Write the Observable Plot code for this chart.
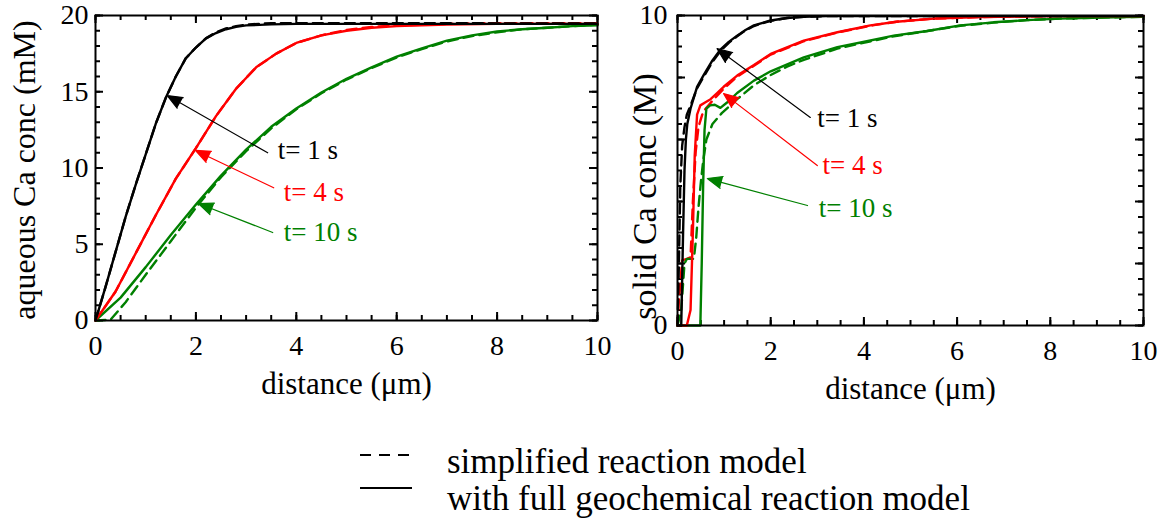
<!DOCTYPE html>
<html><head><meta charset="utf-8">
<script src="https://cdn.jsdelivr.net/npm/d3@7"></script>
<script src="https://cdn.jsdelivr.net/npm/@observablehq/plot@0.6"></script>
<style>
html,body{margin:0;padding:0;background:#fff;}
#wrap{position:relative;width:1168px;height:518px;overflow:hidden;background:#fff;font-family:"Liberation Serif","Times New Roman",serif;}
#wrap > *{position:absolute;}
</style></head><body><div id="wrap"></div>
<script>
// ---------- data: aqueous Ca conc (mM) ----------
const aqBlackX = [0,0.2,0.4,0.6,0.8,1.0,1.2,1.4,1.6,1.8,2.0,2.2,2.4,2.6,2.8,3.0,3.5,4,5,6,7,8,9,10];
const aqBlackSolid = [0,2.2,4.5,6.8,8.9,10.9,12.9,14.6,16.0,17.2,17.9,18.5,18.85,19.1,19.25,19.35,19.42,19.45,19.45,19.45,19.45,19.45,19.45,19.45];
const aqBlackDashed = [0,2.2,4.5,6.8,8.9,10.9,12.9,14.6,16.0,17.2,17.9,18.5,18.9,19.15,19.3,19.4,19.5,19.5,19.5,19.5,19.5,19.5,19.5,19.5];

const aqRedX = [0,0.4,0.8,1.2,1.6,2.0,2.4,2.8,3.2,3.6,4.0,4.5,5.0,5.5,6.0,7.0,8.0,10];
const aqRedSolid = [0,1.9,4.4,6.9,9.3,11.3,13.4,15.2,16.6,17.5,18.2,18.7,19.0,19.2,19.3,19.4,19.45,19.45];
const aqRedDashed = [0,1.9,4.4,6.9,9.3,11.3,13.4,15.2,16.6,17.5,18.2,18.7,19.05,19.25,19.35,19.45,19.5,19.5];

const aqGreenX = [0,0.5,1.0,1.5,2.0,2.5,3.0,3.5,4.0,4.5,5.0,5.5,6.0,6.5,7.0,7.5,8.0,8.5,9.0,9.5,10];
const aqGreenSolid = [0,1.5,3.5,5.6,7.6,9.5,11.2,12.7,13.9,14.95,15.85,16.6,17.3,17.85,18.35,18.7,18.95,19.1,19.2,19.3,19.35];
const aqGreenDashedX = [0,0.3,0.6,1.0,1.5,2.0,2.5,3.0,3.5,4.0,4.5,5.0,5.5,6.0,6.5,7.0,7.5,8.0,8.5,9.0,9.5,10];
const aqGreenDashed = [0,0.05,1.2,3.0,5.2,7.4,9.4,11.1,12.6,13.85,14.9,15.8,16.55,17.25,17.8,18.3,18.65,18.9,19.1,19.2,19.3,19.4];

// ---------- data: solid Ca conc (M) ----------
const soBlackX = [0,0.08,0.1,0.12,0.15,0.18,0.21,0.28,0.42,0.57,0.75,0.92,1.1,1.28,1.46,1.64,2.0,2.35,2.71,3.2,4,5,10];
const soBlackSolid = [0,0,1.5,3.0,5.0,6.0,6.5,7.0,7.7,8.1,8.55,8.9,9.15,9.35,9.53,9.68,9.84,9.92,9.96,9.98,9.98,9.98,9.98];
const soBlackDashedX = [0,0.03,0.06,0.1,0.15,0.2,0.28,0.42,0.57,0.75,0.92,1.1,1.28,1.46,1.64,2.0,2.35,2.71,3.2,4,5,10];
const soBlackDashed = [0,2.0,4.5,5.8,6.4,6.8,7.1,7.65,8.05,8.5,8.85,9.12,9.33,9.52,9.66,9.83,9.92,9.96,9.98,9.98,9.98,9.98];

const soRedX = [0,0.2,0.28,0.33,0.37,0.42,0.49,0.6,0.71,0.85,0.99,1.28,1.64,2.0,2.71,3.43,4.14,4.7,5.5,6.5,8,10];
const soRedSolid = [0,0,0.5,3.0,5.5,6.8,7.1,7.2,7.3,7.5,7.7,8.06,8.4,8.76,9.19,9.46,9.68,9.8,9.9,9.95,9.98,9.98];
const soRedDashedX = [0,0.03,0.1,0.2,0.28,0.33,0.39,0.45,0.55,0.75,1.0,1.28,1.64,2.0,2.71,3.43,4.14,4.7,5.5,6.5,8,10];
const soRedDashed = [0,0.8,2.1,2.15,2.2,4.0,5.6,6.4,6.9,7.25,7.65,8.03,8.38,8.74,9.17,9.45,9.67,9.8,9.9,9.95,9.98,9.98];

const soGreenX = [0,0.49,0.52,0.55,0.58,0.62,0.7,0.8,0.92,1.07,1.28,1.64,2.0,2.71,3.43,3.93,4.64,5.36,6.07,6.78,7.5,8.2,9.6,10];
const soGreenSolid = [0,0,2.0,4.5,6.3,7.0,7.1,7.12,7.02,7.2,7.5,7.9,8.2,8.65,8.98,9.13,9.35,9.5,9.68,9.78,9.85,9.9,9.95,9.96];
const soGreenDashedX = [0,0.08,0.15,0.2,0.35,0.4,0.45,0.5,0.55,0.62,0.75,0.95,1.28,1.64,2.0,2.35,2.71,3.43,3.93,4.64,5.36,6.07,6.78,7.5,8.2,9.6,10];
const soGreenDashed = [0,0.5,2.0,2.15,2.15,2.8,3.8,4.6,5.3,6.0,6.5,6.85,7.3,7.75,8.08,8.35,8.57,8.93,9.1,9.33,9.5,9.67,9.77,9.85,9.9,9.95,9.96];

// ---------- ticks & labels ----------
const xTickLabels = [0,2,4,6,8,10];
const aqTickLabels = [0,5,10,15,20];
const soTickLabels = [0,10];
const seriesColors = ["black","red","green"];
const timeLabels = ["t= 1 s","t= 4 s","t= 10 s"];

// annotations (data units): label position, arrow tail, arrow tip
const aqLabelX = [3.63,3.75,3.75], aqLabelY = [11.15,8.4,5.77];
const aqTailX = [3.43,3.55,3.53], aqTailY = [11.0,8.7,5.77];
const aqTipX = [1.43,1.99,2.05], aqTipY = [14.75,11.15,7.67];
const soLabelX = [3.0,3.11,3.03], soLabelY = [6.68,5.16,3.77];
const soTailX = [2.85,3.0,2.79], soTailY = [6.71,5.16,3.87];
const soTipX = [0.85,0.99,0.64], soTipY = [8.93,7.48,4.74];

const legendLabels = ["simplified reaction model","with full geochemical reaction model"];

// ---------- build ----------
const FONT = '"Liberation Serif","Times New Roman",serif';
const rows = (xs, ys) => xs.map((x,i)=>({x, y: ys[i]}));
const annRows = (lx,ly,tx,ty,px,py) => timeLabels.map((label,i)=>({label, lx:lx[i], ly:ly[i], x1:tx[i], y1:ty[i], x2:px[i], y2:py[i], color:seriesColors[i]}));

function panel(o){
  const height = 400, marginTop = 15;
  const innerW = o.width - o.marginLeft - o.marginRight;
  const innerH = height - marginTop - o.marginBottom;
  const xMinor = d3.range(0, 10.001, 0.5), xMajor = d3.range(0, 10.001, 2);
  const marks = [];
  const tx = (vals,len) => [
    Plot.tickX(vals,{x:d=>d, insetTop: innerH-len, stroke:"black", strokeWidth:2}),
    Plot.tickX(vals,{x:d=>d, insetBottom: innerH-len, stroke:"black", strokeWidth:2})];
  const ty = (vals,len) => [
    Plot.tickY(vals,{y:d=>d, insetRight: innerW-len, stroke:"black", strokeWidth:2}),
    Plot.tickY(vals,{y:d=>d, insetLeft: innerW-len, stroke:"black", strokeWidth:2})];
  marks.push(...tx(xMinor,5), ...tx(xMajor,8), ...ty(o.yMinor,5), ...ty(o.yMajor,8));
  for (const s of o.series) {
    marks.push(Plot.line(rows(s.x, s.y), {x:"x", y:"y", stroke:s.color, strokeWidth:2.4,
      strokeDasharray: s.dashed ? "10,6" : null, strokeLinejoin:"round"}));
  }
  marks.push(Plot.frame({stroke:"black", strokeWidth:2}));
  marks.push(Plot.axisX({ticks: xTickLabels, tickSize:0, tickPadding:15, fontSize:28, label:null}));
  marks.push(Plot.axisY({ticks: o.yLabels, tickSize:0, tickPadding:o.yPad, fontSize:28, label:null}));
  marks.push(Plot.text(["distance (μm)"], {text:d=>d, frameAnchor:"bottom", dy:o.xTitleDy, lineAnchor:"bottom", textAnchor:"middle", fontSize:31}));
  marks.push(Plot.text([o.yTitle], {text:d=>d, frameAnchor:"left", rotate:-90, dx:o.yTitleDx, dy:o.yTitleDy, lineAnchor:"bottom", textAnchor:"middle", fontSize:o.yTitleSize}));
  marks.push(Plot.arrow(o.ann, {x1:"x1", y1:"y1", x2:"x2", y2:"y2", stroke:"color", fill:"color", strokeWidth:1.2, headLength:20, headAngle:45}));
  marks.push(Plot.text(o.ann, {x:"lx", y:"ly", text:"label", fill:"color", textAnchor:"start", fontSize:27}));
  const svg = Plot.plot({
    width:o.width, height, marginTop, marginLeft:o.marginLeft, marginRight:o.marginRight, marginBottom:o.marginBottom,
    x:{domain:[0,10]}, y:{domain:o.yDomain}, color:{type:"identity"},
    style:{fontFamily:FONT, fontSize:"28px", color:"black", background:"transparent", overflow:"visible"},
    marks
  });
  svg.style.position = "absolute"; svg.style.left = o.left + "px"; svg.style.top = "0px";
  return svg;
}

const wrap = document.getElementById("wrap");
wrap.appendChild(panel({
  left:0, width:600, marginLeft:95, marginRight:3, marginBottom:80,
  yDomain:[0,20], yLabels:aqTickLabels, yMinor:d3.range(0,20.001,1), yMajor:d3.range(0,20.001,5), yPad:7,
  yTitle:"aqueous Ca conc (mM)", yTitleDx:-61, yTitleDy:2, yTitleSize:32, xTitleDy:73,
  ann: annRows(aqLabelX,aqLabelY,aqTailX,aqTailY,aqTipX,aqTipY),
  series:[
    {x:aqGreenDashedX, y:aqGreenDashed, color:"green", dashed:true},
    {x:aqRedX, y:aqRedDashed, color:"red", dashed:true},
    {x:aqBlackX, y:aqBlackDashed, color:"black", dashed:true},
    {x:aqGreenX, y:aqGreenSolid, color:"green"},
    {x:aqRedX, y:aqRedSolid, color:"red"},
    {x:aqBlackX, y:aqBlackSolid, color:"black"}
  ]
}));
wrap.appendChild(panel({
  left:600, width:568, marginLeft:77, marginRight:25, marginBottom:75,
  yDomain:[0,10], yLabels:soTickLabels, yMinor:d3.range(0,10.001,0.5), yMajor:d3.range(0,10.001,2), yPad:10,
  yTitle:"solid Ca conc (M)", yTitleDx:-22, yTitleDy:26, yTitleSize:34, xTitleDy:73,
  ann: annRows(soLabelX,soLabelY,soTailX,soTailY,soTipX,soTipY),
  series:[
    {x:soRedDashedX, y:soRedDashed, color:"red", dashed:true},
    {x:soGreenDashedX, y:soGreenDashed, color:"green", dashed:true},
    {x:soBlackDashedX, y:soBlackDashed, color:"black", dashed:true},
    {x:soGreenX, y:soGreenSolid, color:"green"},
    {x:soRedX, y:soRedSolid, color:"red"},
    {x:soBlackX, y:soBlackSolid, color:"black"}
  ]
}));

// legend
const leg = d3.create("svg").attr("width",1168).attr("height",118)
  .style("left","0px").style("top","400px").style("font-family",FONT);
const legDash = ["11,8", null];
legendLabels.forEach((label,i)=>{
  const ly = i===0 ? 55 : 88;
  leg.append("line").attr("x1",360).attr("x2",412).attr("y1",ly).attr("y2",ly)
    .attr("stroke","black").attr("stroke-width",2).attr("stroke-dasharray",legDash[i]);
  leg.append("text").attr("x",447).attr("y", i===0 ? 73 : 110).attr("font-size",35).attr("fill","black").text(label);
});
wrap.appendChild(leg.node());
</script></body></html>
